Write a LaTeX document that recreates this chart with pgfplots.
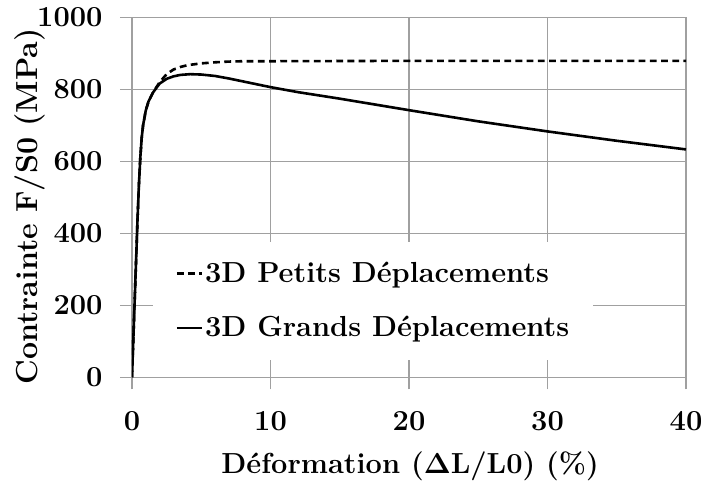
\documentclass[border=0pt]{standalone}
\usepackage{pgfplots}
\pgfplotsset{compat=1.18}

\definecolor{gridgray}{RGB}{160,160,160}

\begin{document}
\begin{tikzpicture}
\begin{axis}[
  name=ax,
  scale only axis,
  width=277pt, height=180pt,
  xmin=0, xmax=40, ymin=0, ymax=1000,
  xtick={0,10,20,30,40},
  ytick={0,200,400,600,800,1000},
  tick pos=left,
  tick align=outside,
  major tick length=6pt,
  grid=major,
  grid style={gridgray, line width=0.7pt},
  axis line style={gridgray, line width=0.7pt},
  tick style={gridgray, line width=0.7pt},
  font=\fontsize{14.5}{17}\selectfont\bfseries,
  tick label style={font=\fontsize{14.5}{17}\selectfont\bfseries},
  xticklabel style={yshift=-7.5pt},
  yticklabel style={xshift=-5.2pt},
  /pgf/number format/assume math mode=true,
  /pgf/number format/1000 sep={},
  xlabel={Déformation ($\mathbf{\Delta}$L/L0) (\%)},
  ylabel={Contrainte F/S0 (MPa)},
  xlabel style={at={(axis description cs:0.502,-0.247)}, anchor=center},
  ylabel style={at={(axis description cs:-0.185,0.475)}, anchor=center,
    font=\fontsize{15.2}{18}\selectfont\bfseries},
  legend cell align=left,
  legend style={
    at={(axis cs:1.52,48)}, anchor=south west,
    fill=white, draw=none,
    inner xsep=11pt, inner ysep=8pt,
    row sep=11.5pt,
    nodes={inner xsep=1pt},
    font=\fontsize{14.5}{17}\selectfont\bfseries,
  },
  legend image code/.code={\draw[#1] (0pt,0pt) -- (12.5pt,0pt);},
]
% small-displacement analysis
\addplot[black, line width=1.3pt, dash pattern=on 3.4pt off 2.2pt] coordinates {
  (0,0) (0.1,110) (0.2,220) (0.3,330) (0.4,440) (0.5,535) (0.6,610)
  (0.7,665) (0.8,700) (1.0,742) (1.2,767) (1.5,790) (1.8,808)
  (2.0,820) (2.5,842) (3.0,855) (3.5,862) (4.0,867) (5.0,872)
  (6.0,875) (7.0,877) (8.0,878) (10,878) (20,879) (30,879) (40,879)
};
\addlegendentry{3D Petits Déplacements}
% large-displacement analysis
\addplot[black, line width=1.3pt] coordinates {
  (0,0) (0.1,110) (0.2,220) (0.3,330) (0.4,440) (0.5,535) (0.6,610)
  (0.7,665) (0.8,700) (1.0,742) (1.2,767) (1.5,790) (1.8,806)
  (2.0,816) (2.5,829) (3.0,836) (3.5,840) (4.2,842) (5.0,841)
  (6.0,837) (7.0,830) (8.0,822) (9.0,814) (10,806) (12,792)
  (15,774) (20,742) (25,711) (30,683) (35,657) (40,633)
};
\addlegendentry{3D Grands Déplacements}
\end{axis}
\pgfresetboundingbox
\path ([xshift=-66pt,yshift=-52pt]ax.south west) rectangle ([xshift=9pt,yshift=8.65pt]ax.north east);
\end{tikzpicture}
\end{document}
